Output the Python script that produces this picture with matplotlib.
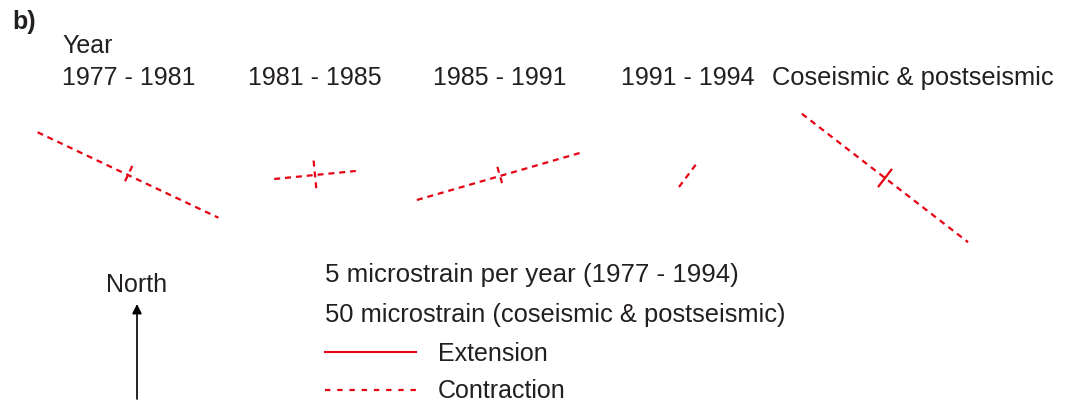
import numpy as np
import matplotlib
matplotlib.use("Agg")
import matplotlib.pyplot as plt

plt.rcParams['font.family'] = ['Liberation Sans', 'DejaVu Sans']

# ── data: principal strains per period
periods = ["1977 - 1981", "1981 - 1985", "1985 - 1991", "1991 - 1994",
           "Coseismic & postseismic"]
# azimuth of major axis, degrees clockwise from north
azimuth = [115.3, 84.4, 73.9, 36.9, 127.7]
# major / minor strain (negative = contraction, positive = extension)
# rates in microstrain/yr for the periods, total microstrain for coseismic
major = [-10.0, -4.1, -8.65, -1.5, -105.0]
minor = [-1.0, -1.45, -0.95, 0.0, 11.5]
per_year = [True, True, True, True, False]

# ── layout (pixels)
W, H = 1073, 405
label_x = [62, 248, 433, 621, 772]
cross_x = [128, 315, 500, 688, 885]
cross_y = [175, 175, 176, 175, 178]
PX_RATE = 100 / 5.0     # px per microstrain/yr
PX_TOTAL = 100 / 50.0   # px per microstrain

RED = "#e60012"
INK = "#231f20"
DASH = (0, (2.7, 2.2))

fig = plt.figure(figsize=(W / 100, H / 100), dpi=100)
ax = fig.add_axes([0, 0, 1, 1])
ax.set_xlim(0, W)
ax.set_ylim(H, 0)
ax.axis("off")


def axis_line(cx, cy, az, value, scale):
    if value == 0:
        return
    half = abs(value) * scale / 2
    a = np.radians(az)
    dx, dy = np.sin(a) * half, -np.cos(a) * half
    ls = "-" if value > 0 else DASH
    ax.plot([cx - dx, cx + dx], [cy - dy, cy + dy], color=RED, lw=1.6,
            linestyle=ls, solid_capstyle="butt", dash_capstyle="butt")


for i in range(len(periods)):
    s = PX_RATE if per_year[i] else PX_TOTAL
    axis_line(cross_x[i], cross_y[i], azimuth[i], major[i], s)
    axis_line(cross_x[i], cross_y[i], azimuth[i] + 90, minor[i], s)
    fs = 18 if per_year[i] else 18.4
    ax.text(label_x[i], 78, periods[i], fontsize=fs, color=INK,
            ha="left", va="center")

ax.text(12, 22, "b)", fontsize=18, fontweight="bold", color=INK,
        ha="left", va="center")
ax.text(62, 46, "Year", fontsize=18, color=INK, ha="left", va="center")

# ── scale / legend block
ax.text(325, 275, "5 microstrain per year (1977 - 1994)", fontsize=18.6,
        color=INK, ha="left", va="center")
ax.text(325, 315, "50 microstrain (coseismic & postseismic)", fontsize=18.4,
        color=INK, ha="left", va="center")
ax.plot([325, 416], [352, 352], color=RED, lw=1.5)
ax.text(438, 354, "Extension", fontsize=18, color=INK, ha="left", va="center")
ax.plot([325, 416], [390, 390], color=RED, lw=1.6, linestyle=(0, (2.4, 3.1)))
ax.text(438, 391, "Contraction", fontsize=18, color=INK, ha="left", va="center")

# ── north arrow
ax.text(137, 285, "North", fontsize=18, color=INK, ha="center", va="center")
ax.annotate("", xy=(137, 304), xytext=(137, 399),
            arrowprops=dict(arrowstyle="-|>", color="black", lw=1.2,
                            mutation_scale=14, shrinkA=0, shrinkB=0))

fig.savefig("out.png", dpi=100)
